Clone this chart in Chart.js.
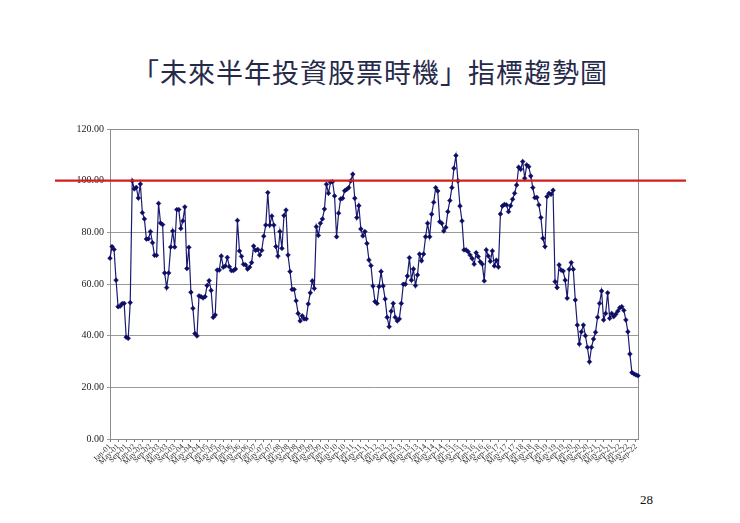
<!DOCTYPE html>
<html>
<head>
<meta charset="utf-8">
<script src="https://cdn.jsdelivr.net/npm/chart.js@4"></script>
<style>
    html, body { margin: 0; padding: 0; background: #fff; }
    body { width: 740px; height: 523px; position: relative; overflow: hidden; }
    #title {
        position: absolute; left: 0; top: 52px; width: 740px; text-align: center;
        font-family: "Noto Sans CJK TC", "Noto Sans CJK SC", sans-serif;
        font-size: 27px; color: #262a4a; letter-spacing: 1px;
    }
    #page {
        position: absolute; left: 640px; top: 492px;
        font-family: "Liberation Serif", serif; font-size: 13px; color: #111;
    }
    #chartBox { position: absolute; left: 0; top: 0; width: 740px; height: 523px; }
</style>
</head>
<body>
<div id="title">「未來半年投資股票時機」指標趨勢圖</div>
<div id="page">28</div>
<div id="chartBox"><canvas id="cciChart"></canvas></div>

<script>
// Month names and first year of the monthly survey
const monthNames = ['Jan', 'Feb', 'Mar', 'Apr', 'May', 'Jun', 'Jul', 'Aug', 'Sep', 'Oct', 'Nov', 'Dec'];
const firstYear = 2001;

// Y axis ticks
const yTicks = [0, 20, 40, 60, 80, 100, 120];

// Reference line level
const refLevel = 100;

// Monthly index values, Jan-01 .. Oct-22
const indexValues = [
    70, 74.5, 73.4, 61.5, 51.2, 51.4, 52.4, 52.5, 39.4, 39,
    52.8, 99.9, 96.8, 97.4, 93.3, 98.7, 87.6, 85.2, 77.4, 77.5,
    80.3, 76, 71.1, 71.1, 91.2, 83.6, 83.0, 64.3, 58.6, 64.3,
    74.3, 80.5, 74.3, 88.8, 88.8, 81.5, 84.4, 89.8, 66, 74.2,
    56.8, 50.6, 40.8, 39.9, 55.4,
    55.1, 54.6, 55.1, 59.4, 61.3, 57.5, 47.1, 48, 65.4, 65.4,
    70.8, 66.5, 67, 70.3, 66.7, 65.2, 65.2, 65.8, 84.6, 72.8,
    70.7, 67.6, 67.4, 65.8, 66.5, 68.3, 74.7, 73, 73.4, 71.2,
    73, 78.5, 82.8, 95.4, 82.8, 86.3, 82.8, 74.5, 70.8, 80.3,
    73.8, 86.5, 88.6,
    71.2, 64.8, 57.9, 57.9, 53.5, 48.6, 45.7, 47.7, 46.5, 46.5,
    52.3, 56.6, 61.2, 58.3, 82.2, 78.8, 83.5, 85.2, 89, 98.6,
    95.1, 99.4, 99.6, 94.1, 78.3, 87.4, 92.9, 93.2, 96.1, 96.6,
    97.3, 99.9, 102.5, 93.2, 85.7, 90.3, 81.3, 78.6, 80.3, 75.7,
    69.3, 67.1, 59.2, 53.2, 52.5, 59,
    64.8, 59.2, 54.2, 47.1, 43.5, 49.5, 52.5, 47.1, 45.7, 46.5,
    52.5, 59.9, 59.9, 63.1, 70.2, 61.5, 65.8, 59.4, 63.5, 71.6,
    69, 71.6, 78.3, 83.5, 78.3, 87, 91.6, 97.3, 96, 84.1,
    83.5, 80.5, 81.9, 88, 92.3, 97.3, 104.8, 109.7, 99.9, 90.2,
    84.4, 73.2, 73.2, 72.5, 71.2,
    69.9, 67.7, 72.1, 70.6, 68.6, 67.7, 61.2, 73.2, 70.8, 68.8,
    72.8, 67, 69.2, 66.6, 87.1, 90.2, 90.8, 90.6, 88, 90.3,
    92.8, 95.1, 98.3, 105.2, 104.4, 107.4, 100.9, 106.1, 105.4, 101.8,
    97.3, 93.4, 93.5, 90.6, 85.7, 77.7, 74.5, 93.8, 95.1, 94.7,
    96.3, 60.9, 58.6, 67.4,
    65.4, 65, 61.5, 54.5, 65.7, 68.3, 65.7, 53.8, 44.1, 36.8,
    41.5, 44.1, 40, 35.5, 29.9, 35.5, 38.7, 41.3, 47.1, 52.5,
    57.3, 46.1, 48.6, 56.6, 46.7, 48.6, 47.4, 48.3, 49.5, 50.8,
    51.2, 49.8, 46.1, 41.5, 32.9, 25.7, 25.2, 24.8, 24.5
];

// Category labels like "Jan-01"
const categories = indexValues.map((v, i) => {
    const yy = String((firstYear + Math.floor(i / 12)) % 100).padStart(2, '0');
    return monthNames[i % 12] + '-' + yy;
});

// Red reference line across the whole slide + grey frame round the plot
const slidePlugin = {
    id: 'slideLines',
    beforeDatasetsDraw(chart) {
        const { ctx, chartArea } = chart;
        ctx.save();
        ctx.strokeStyle = '#8c8c8c';
        ctx.lineWidth = 1;
        ctx.strokeRect(chartArea.left + 0.5, chartArea.top + 0.5,
            chartArea.right - chartArea.left, chartArea.bottom - chartArea.top);
        ctx.restore();
    },
    afterDatasetsDraw(chart) {
        const { ctx, scales } = chart;
        const y = scales.y.getPixelForValue(refLevel);
        ctx.save();
        ctx.strokeStyle = '#d21f1f';
        ctx.lineWidth = 2.2;
        ctx.beginPath();
        ctx.moveTo(55, y);
        ctx.lineTo(686, y);
        ctx.stroke();
        ctx.restore();
    }
};

const ctx = document.getElementById('cciChart').getContext('2d');
new Chart(ctx, {
    type: 'line',
    data: {
        labels: categories,
        datasets: [{
            data: indexValues,
            borderColor: '#1b1b72',
            backgroundColor: '#0d0d66',
            borderWidth: 1.2,
            pointStyle: 'rectRot',
            pointRadius: 2.4,
            pointBorderWidth: 0.5,
            pointBorderColor: '#0d0d66',
            tension: 0
        }]
    },
    options: {
        responsive: true,
        maintainAspectRatio: false,
        animation: false,
        layout: {
            padding: { left: 50, top: 129, right: 102, bottom: 44 }
        },
        scales: {
            x: {
                offset: false,
                grid: { drawOnChartArea: false, drawTicks: true, tickLength: 3, color: '#777' },
                border: { color: '#777' },
                ticks: {
                    autoSkip: false,
                    maxRotation: 45,
                    minRotation: 45,
                    padding: 0,
                    color: '#333',
                    font: { family: 'Liberation Serif', size: 8 },
                    callback: function(value, index) {
                        return index % 4 === 0 ? categories[index] : null;
                    }
                },
                afterFit: function(scale) { scale.height = 40; }
            },
            y: {
                min: 0,
                max: 120,
                afterBuildTicks: function(scale) {
                    scale.ticks = yTicks.map(v => ({ value: v }));
                },
                grid: { color: '#9a9a9a', tickLength: 3 },
                border: { color: '#777' },
                ticks: {
                    color: '#222',
                    font: { family: 'Liberation Serif', size: 10 },
                    callback: function(value) {
                        return Number(value).toFixed(2);
                    }
                },
                afterFit: function(scale) { scale.width = 60; }
            }
        },
        plugins: {
            legend: { display: false },
            tooltip: { enabled: false }
        }
    },
    plugins: [slidePlugin]
});
</script>
</body>
</html>
